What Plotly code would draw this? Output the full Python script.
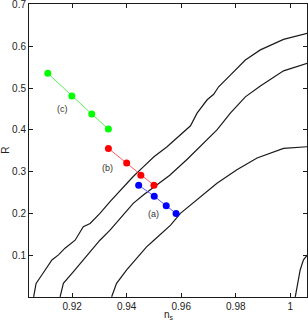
import plotly.graph_objects as go

# Contour curves (n_s, R)
c1_x = [0.9059, 0.9068, 0.9089, 0.9113, 0.9126, 0.9150, 0.9174, 0.9211, 0.9241, 0.9266, 0.9302, 0.9339,
        0.9388, 0.9424, 0.9461, 0.9500, 0.9548, 0.9634, 0.9658, 0.9695, 0.9719, 0.9737, 0.9780, 0.9835,
        0.9890, 0.9975, 1.0063]
c1_y = [0.002, 0.034, 0.054, 0.078, 0.090, 0.102, 0.118, 0.137, 0.169, 0.177, 0.201, 0.229,
        0.265, 0.289, 0.312, 0.336, 0.360, 0.410, 0.440, 0.472, 0.485, 0.503, 0.531, 0.567,
        0.591, 0.616, 0.631]
c2_x = [0.9156, 0.9168, 0.9205, 0.9241, 0.9278, 0.9302, 0.9339, 0.9388, 0.9424, 0.9461, 0.9497, 0.9558,
        0.9622, 0.9683, 0.9731, 0.9780, 0.9835, 0.9890, 0.9975, 1.0063]
c2_y = [0.002, 0.034, 0.062, 0.090, 0.118, 0.137, 0.161, 0.197, 0.225, 0.245, 0.262, 0.292,
        0.330, 0.368, 0.400, 0.440, 0.479, 0.505, 0.541, 0.559]
c3_x = [0.9345, 0.9363, 0.9400, 0.9437, 0.9473, 0.9500, 0.9561, 0.9597, 0.9658, 0.9731, 0.9804, 0.9878,
        0.9975, 1.0063]
c3_y = [0.002, 0.034, 0.066, 0.094, 0.121, 0.137, 0.173, 0.201, 0.233, 0.273, 0.305, 0.333,
        0.356, 0.360]
c4_x = [1.0018, 1.0036, 1.0048, 1.0063]
c4_y = [0.002, 0.066, 0.090, 0.102]

# Model point series
a_x = [0.9444, 0.9501, 0.9545, 0.9581]
a_y = [0.268, 0.242, 0.219, 0.201]
b_x = [0.9333, 0.9400, 0.9452, 0.9500]
b_y = [0.356, 0.321, 0.292, 0.268]
c_x = [0.9111, 0.9199, 0.9272, 0.9333]
c_y = [0.535, 0.481, 0.438, 0.402]

labels = ["(a)", "(b)", "(c)"]
label_x = [0.9497, 0.9330, 0.9166]
label_y = [0.200, 0.310, 0.449]

x_ticks = [0.92, 0.94, 0.96, 0.98, 1.0]
x_tick_text = ["0.92", "0.94", "0.96", "0.98", "1"]
y_ticks = [0.1, 0.2, 0.3, 0.4, 0.5, 0.6, 0.7]
y_tick_text = ["0.1", "0.2", "0.3", "0.4", "0.5", "0.6", "0.7"]

FONT = "Liberation Sans, Arial"

fig = go.Figure()
for cx, cy in [(c1_x, c1_y), (c2_x, c2_y), (c3_x, c3_y), (c4_x, c4_y)]:
    fig.add_trace(go.Scatter(x=cx, y=cy, mode="lines", line=dict(color="#1a1a1a", width=1.2),
                             showlegend=False, hoverinfo="skip"))

for sx, sy, col, lcol in [(a_x, a_y, "#0000ff", "#5a5aff"), (b_x, b_y, "#ff0000", "#ff5a5a"),
                          (c_x, c_y, "#00ff00", "#5aef5a")]:
    fig.add_trace(go.Scatter(x=sx, y=sy, mode="lines+markers",
                             line=dict(color=lcol, width=1),
                             marker=dict(color=col, size=7),
                             showlegend=False))

for t, lx, ly in zip(labels, label_x, label_y):
    fig.add_annotation(x=lx, y=ly, text=t, showarrow=False,
                       font=dict(family=FONT, size=9, color="#333333"))

# axis titles
fig.add_annotation(xref="paper", yref="paper", x=0.505, y=-0.035, xanchor="center", yanchor="top",
                   text="n<sub>s</sub>", showarrow=False,
                   font=dict(family=FONT, size=10, color="#222222"))
fig.add_annotation(xref="paper", yref="paper", x=-0.085, y=0.5, xanchor="center", yanchor="middle",
                   text="R", textangle=-90, showarrow=False,
                   font=dict(family=FONT, size=10, color="#222222"))

axis_common = dict(showgrid=False, zeroline=False, showline=True, linecolor="#1a1a1a", linewidth=1,
                   mirror="ticks", ticks="inside", ticklen=4, tickcolor="#1a1a1a", automargin=False,
                   ticklabeloverflow="allow",
                   tickfont=dict(family=FONT, size=10, color="#222222"))

fig.update_layout(
    width=308, height=323,
    margin=dict(l=29, r=1, t=4, b=26),
    paper_bgcolor="white", plot_bgcolor="white",
    xaxis=dict(range=[0.9042, 1.0061], tickvals=x_ticks, ticktext=x_tick_text, **axis_common),
    yaxis=dict(range=[0.0015, 0.7005], tickvals=y_ticks, ticktext=y_tick_text, **axis_common),
)

fig.write_html("out.html", config={"displayModeBar": False},
               post_script="document.body.style.margin='0';document.body.style.overflow='hidden';")
